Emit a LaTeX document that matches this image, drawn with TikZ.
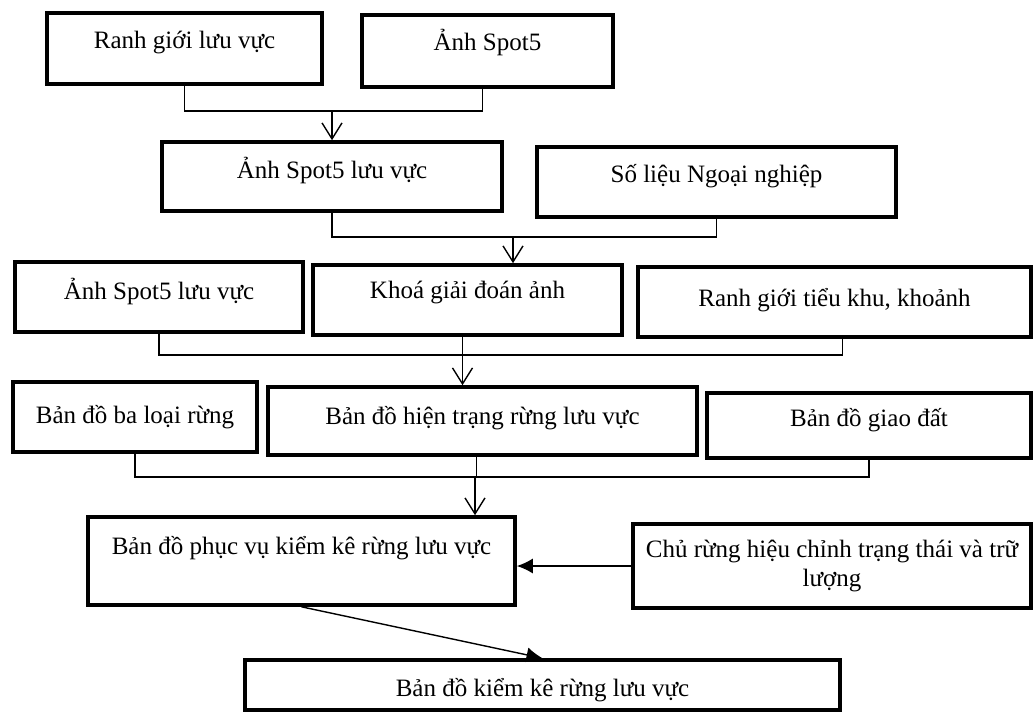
\documentclass[tikz,border=0pt]{standalone}
\usepackage{fontspec}
\setmainfont{Liberation Serif}
\usetikzlibrary{arrows.meta,calc}
\tikzset{
  box/.style={draw=black, line width=3.6pt, inner sep=0pt, line join=miter},
  lbl/.style={font=\fontsize{25}{29}\selectfont, inner sep=0pt, align=center},
  conn/.style={draw=black, line width=1.4pt},
  openarr/.style={conn, -{Straight Barb[length=16pt,width=20pt,line width=1.4pt]}},
  filledarr/.style={conn, -{Latex[length=16pt,width=15pt]}},
}
% name, x1, y1, x2, y2, text shift, text
\newcommand\mybox[7]{%
  \node[box, minimum width={#4-#2}, minimum height={#5-#3}] (#1) at ({(#2+#4)/2},{(#3+#5)/2}) {};
  \node[lbl] (#1t) at ($(#1.center)+(0,#6)$) {#7};
}
\begin{document}
\begin{tikzpicture}[x=1pt,y=-1pt]
\fill[white] (0,0) rectangle (1035,718);
\useasboundingbox (0,0) rectangle (1035,718);

\mybox{B1}{47}{13}{322}{84}{-6}{Ranh giới lưu vực}
\mybox{B2}{362}{15}{613}{87}{-8}{Ảnh Spot5}
\mybox{B3}{162}{142}{502}{211}{-6}{Ảnh Spot5 lưu vực}
\mybox{B4}{537}{147}{896}{217}{-6}{Số liệu Ngoại nghiệp}
\mybox{B5}{15}{262}{303}{332}{-6}{Ảnh Spot5 lưu vực}
\mybox{B6}{313}{265}{622}{335}{-8}{Khoá giải đoán ảnh}
\mybox{B7}{638}{267}{1031}{337}{-2}{Ranh giới tiểu khu, khoảnh}
\mybox{B8}{13}{382}{257}{452}{0}{Bản đồ ba loại rừng}
\mybox{B9}{268}{387}{697}{455}{-3}{Bản đồ hiện trạng rừng lưu vực}
\mybox{B10}{707}{393}{1031}{458}{-5}{Bản đồ giao đất}
\mybox{B11}{88}{517}{515}{605}{-13}{Bản đồ phục vụ kiểm kê rừng lưu vực}
\mybox{B12}{633}{524}{1031}{608}{0}{Chủ rừng hiệu chỉnh trạng thái và trữ\\lượng}
\mybox{B13}{245}{660}{840}{710}{5}{Bản đồ kiểm kê rừng lưu vực}

\coordinate (h1) at (0,111);
\coordinate (h2) at (0,237);
\coordinate (h3) at (0,355);
\coordinate (h4) at (0,477);
\coordinate (a2) at (513,237);
\coordinate (a4) at (475,477);

% row 1 -> B3
\draw[conn] (B1.south) |- ([xshift=-5pt]B2.south |- h1) -- ([xshift=-5pt]B2.south);
\draw[openarr] (B3.north |- h1) -- (B3.north);
% row 2 -> B6
\draw[conn] (B3.south) |- (B4.south |- h2) -- (B4.south);
\draw[openarr] (a2) -- (a2 |- B6.north);
% row 3 -> B9
\draw[conn] (B5.south) |- ([xshift=8pt]B7.south |- h3) -- ([xshift=8pt]B7.south);
\draw[openarr] ([xshift=-5pt]B6.south) -- ([xshift=-5pt]B6.south |- B9.north);
% row 4 -> B11
\draw[conn] (B8.south) |- (B10.south |- h4) -- (B10.south);
\draw[conn] ([xshift=-6pt]B9.south) -- ([xshift=-6pt]B9.south |- h4);
\draw[openarr] (a4) -- (a4 |- B11.north);
% B12 -> B11
\draw[filledarr] (B12.west) -- (B12.west -| B11.east);
% B11 -> B13
\draw[filledarr] (B11.south) -- (B13.north);
\end{tikzpicture}
\end{document}
